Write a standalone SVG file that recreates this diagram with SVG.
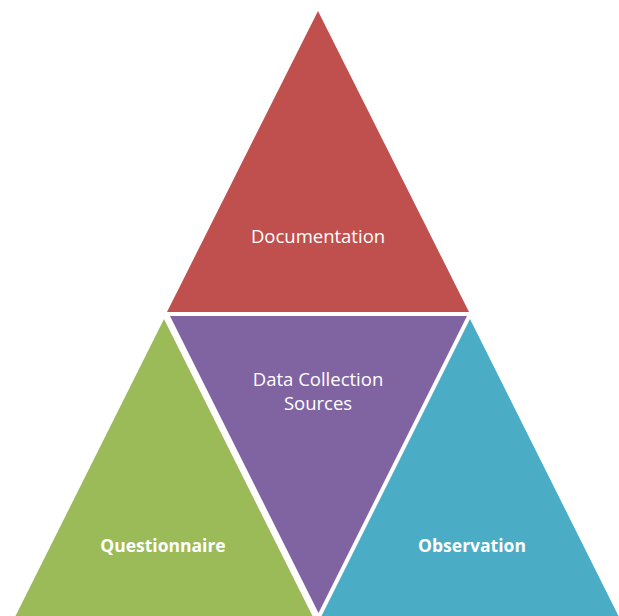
<svg xmlns="http://www.w3.org/2000/svg" width="619" height="616" viewBox="0 0 619 616">
<style>
.t{font-family:"Open Sans","Liberation Sans",sans-serif;font-size:18.5px;fill:#ffffff;text-anchor:middle}
.b{font-weight:bold;font-size:17.5px}
.tri{stroke:none}
</style>
<rect width="619" height="616" fill="#ffffff"/>
<g id="documentation">
<polygon class="tri" points="318,11 469,312 167,312" fill="#C0504D"/>
<text class="t" x="318" y="243">Documentation</text>
</g>
<g id="data-collection-sources">
<polygon class="tri" points="170,316 467,316 318.5,613" fill="#8064A2"/>
<text class="t" x="318" y="386">Data Collection</text>
<text class="t" x="318" y="410">Sources</text>
</g>
<g id="questionnaire">
<polygon class="tri" points="164,319 314,619 14,619" fill="#9BBB59"/>
<text class="t b" x="163" y="552">Questionnaire</text>
</g>
<g id="observation">
<polygon class="tri" points="470,319 620,619 320,619" fill="#4BACC6"/>
<text class="t b" x="472" y="552">Observation</text>
</g>
<g id="connectors"></g>
</svg>
